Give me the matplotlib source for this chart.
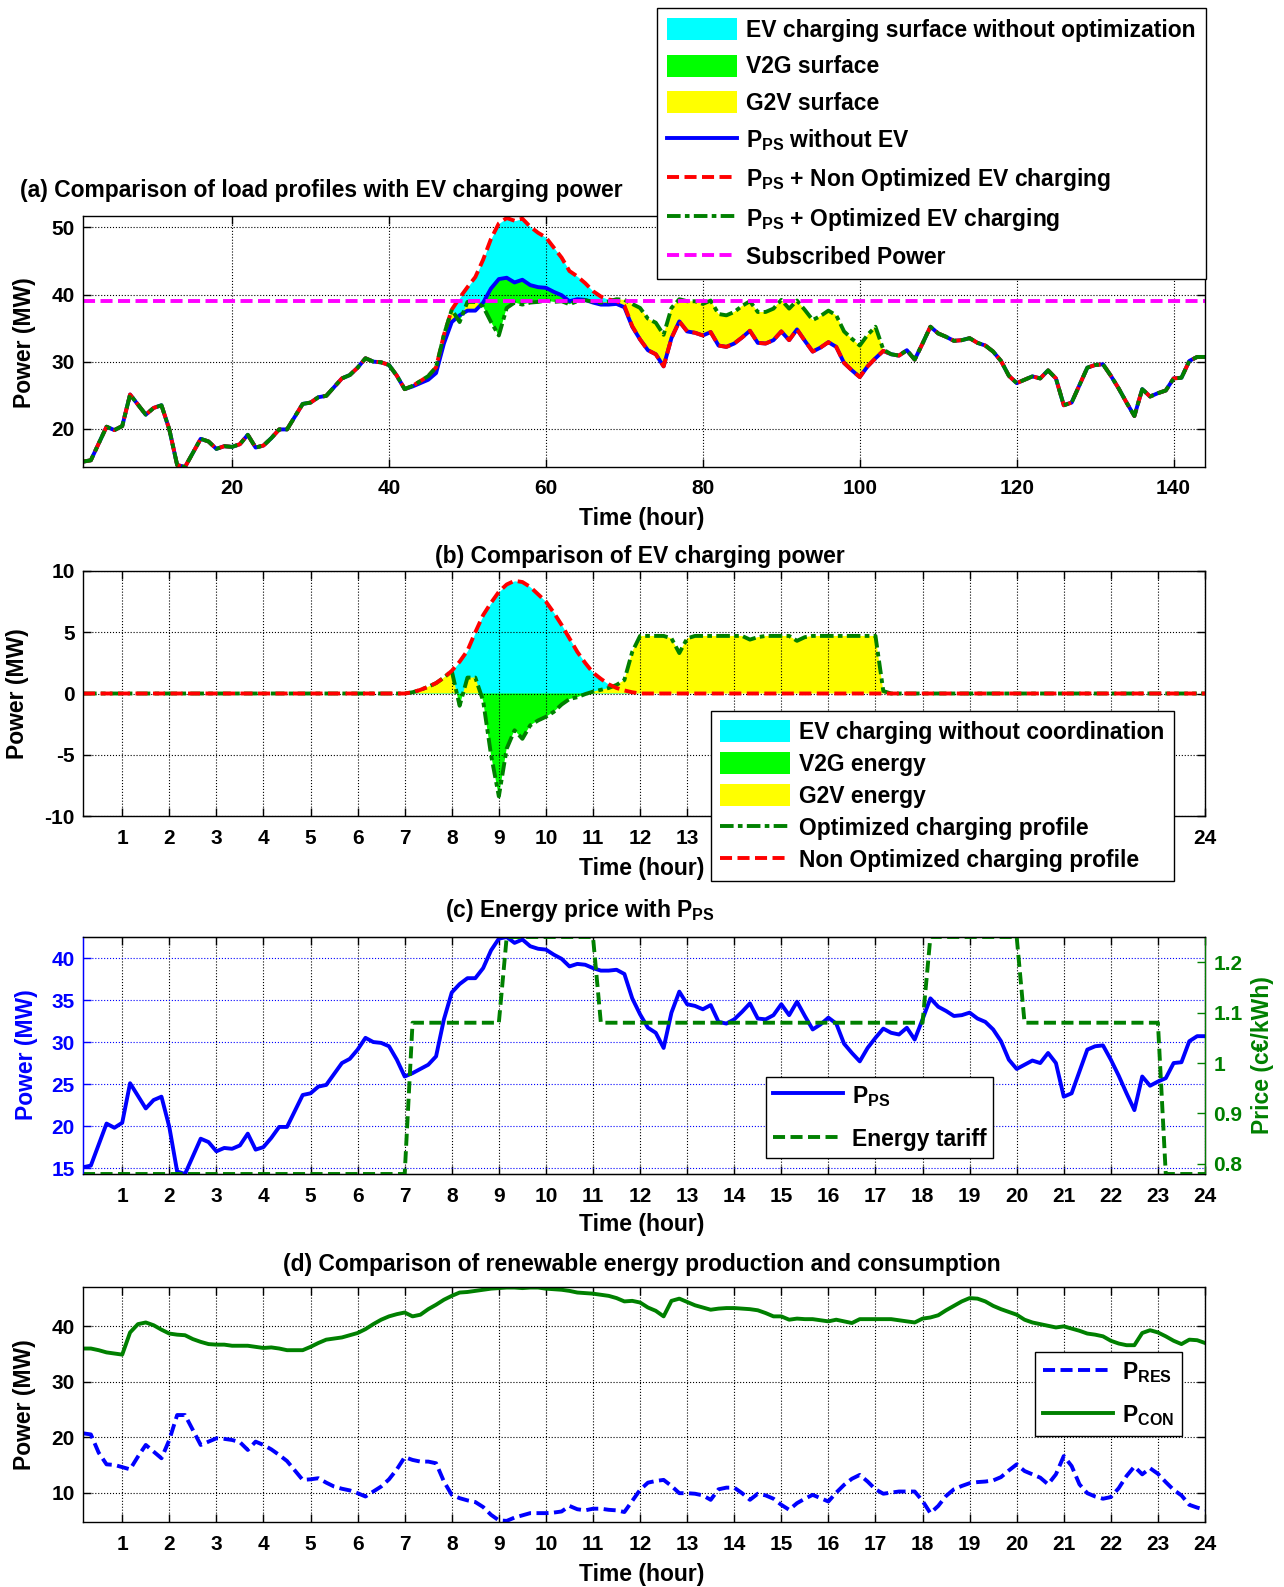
import numpy as np
import matplotlib
matplotlib.use("Agg")
import matplotlib.pyplot as plt
from matplotlib.lines import Line2D
from matplotlib.patches import Patch

plt.rcParams['font.family'] = ['Liberation Sans', 'DejaVu Sans']
plt.rcParams['font.weight'] = 'bold'
plt.rcParams['font.size'] = 16.5
plt.rcParams['axes.unicode_minus'] = False
plt.rcParams['mathtext.fontset'] = 'custom'
plt.rcParams['mathtext.rm'] = 'Liberation Sans:bold'
plt.rcParams['mathtext.bf'] = 'Liberation Sans:bold'
plt.rcParams['mathtext.it'] = 'Liberation Sans:bold'
plt.rcParams['mathtext.default'] = 'rm'

# power station load without EV, one value every 10 min (MW)
p_ps = [15.1, 15.3, 17.8, 20.3, 19.8, 20.4, 25.1, 23.6, 22.1, 23.1, 23.5, 19.9,
        14.6, 14.3, 16.4, 18.5, 18.1, 17.0, 17.4, 17.3, 17.7, 19.1, 17.2, 17.5,
        18.6, 19.9, 19.9, 21.8, 23.7, 23.9, 24.7, 24.9, 26.2, 27.5, 28.0, 29.1,
        30.5, 30.0, 29.9, 29.5, 27.9, 25.9, 26.3, 26.8, 27.3, 28.3, 32.7, 35.9,
        36.9, 37.6, 37.6, 38.8, 40.9, 42.3, 42.5, 41.8, 42.2, 41.4, 41.1, 41.0,
        40.4, 39.9, 39.0, 39.3, 39.2, 38.8, 38.5, 38.5, 38.6, 38.1, 35.2, 33.3,
        31.7, 31.1, 29.3, 33.5, 36.0, 34.5, 34.3, 33.9, 34.4, 32.4, 32.2, 32.7,
        33.6, 34.6, 32.8, 32.7, 33.2, 34.5, 33.2, 34.8, 33.1, 31.5, 32.1, 32.9,
        32.2, 29.8, 28.7, 27.7, 29.3, 30.5, 31.6, 31.1, 30.9, 31.7, 30.3, 32.7,
        35.2, 34.2, 33.7, 33.1, 33.2, 33.5, 32.8, 32.4, 31.5, 30.1, 27.9, 26.8,
        27.3, 27.8, 27.5, 28.7, 27.5, 23.5, 23.9, 26.5, 29.1, 29.5, 29.6, 27.9,
        26.0, 23.9, 21.9, 25.9, 24.8, 25.3, 25.7, 27.5, 27.6, 30.1, 30.7, 30.7]

# EV charging power without coordination (MW)
ev_nonopt = [0, 0, 0, 0, 0, 0, 0, 0, 0, 0, 0, 0,
             0, 0, 0, 0, 0, 0, 0, 0, 0, 0, 0, 0,
             0, 0, 0, 0, 0, 0, 0, 0, 0, 0, 0, 0,
             0, 0, 0, 0, 0, 0, 0.1, 0.3, 0.55, 0.85, 1.3, 1.85,
             2.6, 3.5, 5.0, 6.4, 7.4, 8.3, 8.9, 9.2, 9.1, 8.7, 8.1, 7.5,
             6.6, 5.6, 4.5, 3.4, 2.5, 1.7, 1.2, 0.75, 0.45, 0.25, 0.1, 0,
             0, 0, 0, 0, 0, 0, 0, 0, 0, 0, 0, 0,
             0, 0, 0, 0, 0, 0, 0, 0, 0, 0, 0, 0,
             0, 0, 0, 0, 0, 0, 0, 0, 0, 0, 0, 0,
             0, 0, 0, 0, 0, 0, 0, 0, 0, 0, 0, 0,
             0, 0, 0, 0, 0, 0, 0, 0, 0, 0, 0, 0,
             0, 0, 0, 0, 0, 0, 0, 0, 0, 0, 0, 0]

# optimized EV charging power (MW), negative = V2G
ev_opt = [0, 0, 0, 0, 0, 0, 0, 0, 0, 0, 0, 0,
          0, 0, 0, 0, 0, 0, 0, 0, 0, 0, 0, 0,
          0, 0, 0, 0, 0, 0, 0, 0, 0, 0, 0, 0,
          0, 0, 0, 0, 0, 0, 0.1, 0.3, 0.55, 0.85, 1.3, 1.85,
          -1.0, 1.3, 1.3, -0.6, -5.0, -8.4, -4.5, -3.0, -3.7, -2.6, -2.2, -1.9,
          -1.5, -0.9, -0.45, -0.3, -0.05, 0.15, 0.3, 0.45, 0.7, 1.1, 3.4, 4.7,
          4.7, 4.7, 4.7, 4.5, 3.3, 4.5, 4.7, 4.7, 4.7, 4.7, 4.7, 4.7,
          4.7, 4.4, 4.6, 4.7, 4.7, 4.7, 4.7, 4.3, 4.6, 4.7, 4.7, 4.7,
          4.7, 4.7, 4.7, 4.7, 4.7, 4.7, 0.2, 0, 0, 0, 0, 0,
          0, 0, 0, 0, 0, 0, 0, 0, 0, 0, 0, 0,
          0, 0, 0, 0, 0, 0, 0, 0, 0, 0, 0, 0,
          0, 0, 0, 0, 0, 0, 0, 0, 0, 0, 0, 0]

subscribed_power = 39.0

# energy tariff per hour slot (c€/kWh)
tariff_hourly = [0.78, 0.78, 0.78, 0.78, 0.78, 0.78, 0.78, 1.08, 1.08, 1.25, 1.25, 1.08,
                 1.08, 1.08, 1.08, 1.08, 1.08, 1.08, 1.25, 1.25, 1.08, 1.08, 1.08, 0.78]

# renewable production and consumption (MW)
p_res = [20.7, 20.5, 17.2, 15.1, 15.0, 14.6, 14.2, 16.5, 18.6, 17.4, 16.2, 19.5,
         24.0, 24.0, 21.3, 18.6, 19.2, 19.8, 19.7, 19.5, 19.1, 17.7, 19.2, 18.6,
         17.8, 16.8, 15.7, 14.0, 12.3, 12.4, 12.6, 11.8, 11.1, 10.7, 10.4, 9.9,
         9.3, 10.2, 11.1, 12.4, 14.2, 16.4, 15.9, 15.6, 15.6, 15.3, 12.0, 9.6,
         9.0, 8.6, 8.3, 7.4, 6.0, 5.0, 4.9, 5.5, 5.9, 6.3, 6.3, 6.3,
         6.4, 6.6, 7.6, 7.0, 6.8, 7.1, 7.1, 6.9, 6.8, 6.5, 8.5, 10.5,
         11.8, 12.1, 12.3, 11.2, 9.9, 9.9, 9.8, 9.5, 8.7, 10.6, 10.9, 10.9,
         9.9, 8.7, 9.8, 9.5, 8.9, 7.8, 6.9, 8.1, 8.9, 9.6, 9.0, 8.4,
         10.0, 11.4, 12.5, 13.2, 12.0, 10.6, 9.8, 10.0, 10.2, 10.2, 10.2, 8.5,
         6.3, 7.6, 9.4, 10.6, 11.2, 11.7, 11.9, 12.0, 12.2, 12.8, 14.0, 15.1,
         13.9, 13.3, 12.7, 11.5, 13.3, 16.6, 14.8, 11.5, 9.9, 9.3, 8.9, 9.2,
         10.8, 13.0, 14.7, 13.3, 14.4, 13.4, 11.9, 10.5, 9.5, 7.8, 7.3, 6.9]

p_con = [36.0, 36.0, 35.7, 35.3, 35.1, 34.9, 38.9, 40.4, 40.7, 40.2, 39.4, 38.7,
         38.5, 38.4, 37.7, 37.2, 36.8, 36.7, 36.7, 36.5, 36.5, 36.5, 36.3, 36.1,
         36.2, 36.0, 35.7, 35.7, 35.7, 36.3, 37.0, 37.6, 37.8, 38.0, 38.4, 38.8,
         39.5, 40.4, 41.2, 41.8, 42.2, 42.5, 41.8, 42.1, 43.1, 43.9, 44.8, 45.5,
         46.1, 46.2, 46.4, 46.6, 46.8, 46.9, 47.0, 47.0, 46.9, 47.0, 47.0, 46.8,
         46.7, 46.6, 46.4, 46.1, 46.0, 45.9, 45.7, 45.5, 45.1, 44.5, 44.6, 44.3,
         43.4, 42.8, 41.8, 44.6, 45.0, 44.4, 43.8, 43.4, 43.0, 43.2, 43.3, 43.3,
         43.2, 43.1, 42.9, 42.4, 41.8, 41.8, 41.2, 41.4, 41.3, 41.3, 41.1, 40.9,
         41.2, 40.9, 40.6, 41.3, 41.3, 41.3, 41.3, 41.3, 41.1, 40.9, 40.7, 41.4,
         41.6, 42.0, 42.9, 43.7, 44.5, 45.1, 45.0, 44.5, 43.7, 43.1, 42.6, 42.1,
         41.2, 40.7, 40.4, 40.1, 39.8, 40.0, 39.6, 39.2, 38.7, 38.5, 38.2, 37.4,
         36.9, 36.6, 36.6, 38.8, 39.3, 38.9, 38.2, 37.4, 36.8, 37.6, 37.5, 37.0]

p_ps = np.array(p_ps)
ev_nonopt = np.array(ev_nonopt)
ev_opt = np.array(ev_opt)
idx = np.arange(1, len(p_ps) + 1)
hours = idx / 6.0
tariff = np.repeat(tariff_hourly, 6)

CYAN = '#00ffff'
LIME = '#00ff00'
YELLOW = '#ffff00'
DKGREEN = '#008000'
LW = 2.8
DASH = (3.1, 1.4)
DASHDOT = (3.5, 1.1, 1.2, 1.1)
FS = 16.5
TFS = 15

fig = plt.figure(figsize=(12.84, 15.87), dpi=100)
W, H = 1284.0, 1587.0


def add_ax(x0, y0, x1, y1):
    return fig.add_axes([x0 / W, 1 - y1 / H, (x1 - x0) / W, (y1 - y0) / H])


def style_axes(ax, right=True):
    ax.tick_params(direction='in', length=6, width=1, top=True, right=right,
                   labelsize=TFS)
    ax.tick_params(axis='x', pad=9)
    ax.tick_params(axis='y', pad=6)
    for s in ax.spines.values():
        s.set_linewidth(1.0)
    ax.set_axisbelow('line')


def ftext(x, y, s, **kw):
    fig.text(x / W, 1 - y / H, s, ha='center', va='center', fontsize=FS,
             fontweight='bold', **kw)


def make_legend(handles, labels, anchor, loc, **kw):
    leg = fig.legend(handles, labels, loc=loc, bbox_to_anchor=(anchor[0] / W, 1 - anchor[1] / H),
                     borderaxespad=0, fancybox=False, edgecolor='k', framealpha=1,
                     handlelength=3.05, handleheight=1.1, handletextpad=0.4,
                     fontsize=FS, **kw)
    leg.get_frame().set_linewidth(1.0)
    leg.set_zorder(10)
    return leg


# ---------------- (a) ----------------
ax1 = add_ax(83, 216, 1205, 467)
style_axes(ax1)
ax1.fill_between(idx, p_ps, p_ps + ev_nonopt, where=ev_nonopt > 0, interpolate=True,
                 color=CYAN, lw=0, zorder=1)
ax1.fill_between(idx, p_ps, p_ps + ev_opt, where=ev_opt < 0, interpolate=True,
                 color=LIME, lw=0, zorder=1.1)
ax1.fill_between(idx, p_ps, p_ps + ev_opt, where=ev_opt > 0, interpolate=True,
                 color=YELLOW, lw=0, zorder=1.2)
ax1.plot(idx, p_ps, color='blue', lw=LW, zorder=2)
ax1.plot(idx, p_ps + ev_nonopt, color='red', lw=LW, dashes=DASH, zorder=2.1)
ax1.plot(idx, p_ps + ev_opt, color=DKGREEN, lw=LW, dashes=DASHDOT, zorder=2.2)
ax1.axhline(subscribed_power, color='magenta', lw=LW, dashes=DASH, zorder=2.3)
ax1.set_xlim(1, 144)
ax1.set_ylim(14.3, 51.7)
ax1.set_xticks([20, 40, 60, 80, 100, 120, 140])
ax1.set_yticks([20, 30, 40, 50])
ax1.grid(True, color='k', linestyle=':', lw=0.8)

ftext(321, 191, '(a) Comparison of load profiles with EV charging power')
ftext(642, 519, 'Time (hour)')
ftext(25, 343, 'Power (MW)', rotation=90)

leg_a = [Patch(facecolor=CYAN, edgecolor='none'),
         Patch(facecolor=LIME, edgecolor='none'),
         Patch(facecolor=YELLOW, edgecolor='none'),
         Line2D([], [], color='blue', lw=LW),
         Line2D([], [], color='red', lw=LW, dashes=DASH),
         Line2D([], [], color=DKGREEN, lw=LW, dashes=DASHDOT),
         Line2D([], [], color='magenta', lw=LW, dashes=DASH)]
lab_a = ['EV charging surface without optimization', 'V2G surface', 'G2V surface',
         r'P$_{\mathregular{PS}}$ without EV',
         r'P$_{\mathregular{PS}}$ + Non Optimized EV charging',
         r'P$_{\mathregular{PS}}$ + Optimized EV charging',
         'Subscribed Power']
make_legend(leg_a, lab_a, (1206, 8), 'upper right', labelspacing=0.55, borderpad=0.45)

# ---------------- (b) ----------------
ax2 = add_ax(83, 571, 1205, 816)
style_axes(ax2)
ax2.fill_between(hours, 0, ev_nonopt, where=ev_nonopt > 0, interpolate=True,
                 color=CYAN, lw=0, zorder=1)
ax2.fill_between(hours, 0, ev_opt, where=ev_opt < 0, interpolate=True,
                 color=LIME, lw=0, zorder=1.1)
ax2.fill_between(hours, 0, ev_opt, where=ev_opt > 0, interpolate=True,
                 color=YELLOW, lw=0, zorder=1.2)
ax2.plot(hours, ev_opt, color=DKGREEN, lw=LW, dashes=DASHDOT, zorder=2)
ax2.plot(hours, ev_nonopt, color='red', lw=LW, dashes=DASH, zorder=2.1)
ax2.set_xlim(1 / 6, 24)
ax2.set_ylim(-10, 10)
ax2.set_xticks(range(1, 25))
# labels 14..23 sit under the legend box
ax2.set_xticklabels([str(h) if (h <= 13 or h == 24) else '' for h in range(1, 25)])
ax2.set_yticks([-10, -5, 0, 5, 10])
ax2.grid(True, color='k', linestyle=':', lw=0.8)

ftext(640, 556, '(b) Comparison of EV charging power')
ftext(642, 868, 'Time (hour)')
ftext(18, 694, 'Power (MW)', rotation=90)

leg_b = [Patch(facecolor=CYAN, edgecolor='none'),
         Patch(facecolor=LIME, edgecolor='none'),
         Patch(facecolor=YELLOW, edgecolor='none'),
         Line2D([], [], color=DKGREEN, lw=LW, dashes=DASHDOT),
         Line2D([], [], color='red', lw=LW, dashes=DASH)]
lab_b = ['EV charging without coordination', 'V2G energy', 'G2V energy',
         'Optimized charging profile', 'Non Optimized charging profile']
make_legend(leg_b, lab_b, (711, 711), 'upper left', labelspacing=0.36, borderpad=0.4)

# ---------------- (c) ----------------
ax3 = add_ax(83, 937, 1205, 1174)
style_axes(ax3, right=False)
ax3.plot(hours, p_ps, color='blue', lw=LW, zorder=2)
ax3.set_xlim(1 / 6, 24)
ax3.set_ylim(14.3, 42.5)
ax3.set_xticks(range(1, 25))
ax3.set_yticks([15, 20, 25, 30, 35, 40])
ax3.tick_params(axis='y', colors='blue')
ax3.spines['left'].set_color('blue')
ax3.grid(True, axis='x', color='k', linestyle=':', lw=0.8)
ax3.grid(True, axis='y', color='blue', linestyle=':', lw=0.8)

ax3r = ax3.twinx()
ax3r.plot(hours, tariff, color=DKGREEN, lw=LW, dashes=DASH)
ax3r.set_ylim(0.78, 1.25)
ax3r.set_yticks([0.8, 0.9, 1.0, 1.1, 1.2])
ax3r.set_yticklabels(['0.8', '0.9', '1', '1.1', '1.2'])
ax3r.tick_params(axis='y', direction='in', length=6, width=1, colors=DKGREEN,
                 labelsize=TFS, pad=6)
ax3r.spines['right'].set_color(DKGREEN)
ax3r.spines['left'].set_color('blue')

ftext(580, 910, r'(c) Energy price with P$_{\mathregular{PS}}$')
ftext(642, 1224, 'Time (hour)')
ftext(26, 1055, 'Power (MW)', rotation=90, color='blue')
ftext(1262, 1055, 'Price (c€/kWh)', rotation=90, color=DKGREEN)

leg_c = [Line2D([], [], color='blue', lw=LW),
         Line2D([], [], color=DKGREEN, lw=LW, dashes=DASH)]
lab_c = [r'P$_{\mathregular{PS}}$', 'Energy tariff']
make_legend(leg_c, lab_c, (766, 1077), 'upper left', labelspacing=0.8, borderpad=0.3)

# ---------------- (d) ----------------
ax4 = add_ax(83, 1287, 1205, 1522)
style_axes(ax4)
ax4.plot(hours, p_res, color='blue', lw=LW, dashes=DASH, zorder=2)
ax4.plot(hours, p_con, color=DKGREEN, lw=LW, zorder=2)
ax4.set_xlim(1 / 6, 24)
ax4.set_ylim(4.7, 47.1)
ax4.set_xticks(range(1, 25))
ax4.set_yticks([10, 20, 30, 40])
ax4.grid(True, color='k', linestyle=':', lw=0.8)

ftext(642, 1265, '(d) Comparison of renewable energy production and consumption')
ftext(642, 1574, 'Time (hour)')
ftext(25, 1405, 'Power (MW)', rotation=90)

leg_d = [Line2D([], [], color='blue', lw=LW, dashes=DASH),
         Line2D([], [], color=DKGREEN, lw=LW)]
lab_d = [r'P$_{\mathregular{RES}}$', r'P$_{\mathregular{CON}}$']
make_legend(leg_d, lab_d, (1035, 1352), 'upper left', labelspacing=0.8, borderpad=0.35)

fig.savefig('out.png', dpi=100)
